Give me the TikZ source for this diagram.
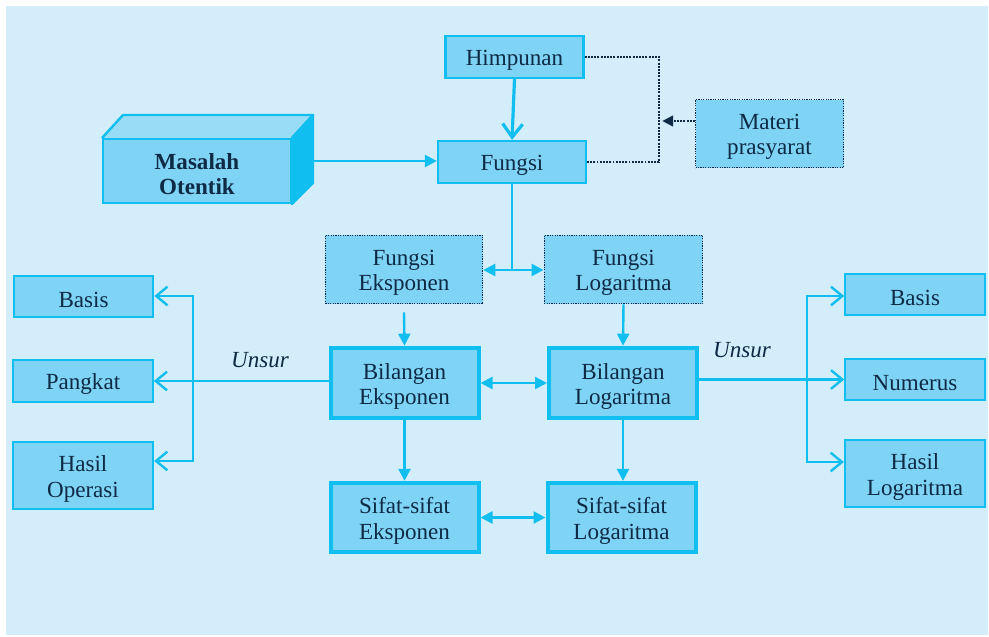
\documentclass[tikz,border=0pt]{standalone}
\usepackage{fontspec}
\setmainfont{Liberation Serif}
\usetikzlibrary{arrows.meta}
\definecolor{bgc}{RGB}{211,238,250}
\definecolor{boxc}{RGB}{127,212,246}
\definecolor{cyanc}{RGB}{16,190,240}
\definecolor{topc}{RGB}{152,220,246}
\definecolor{txtc}{RGB}{14,42,69}
\newcommand\lowr[1]{\raisebox{-2.5pt}[\height][\depth]{#1}}
\begin{document}
\begin{tikzpicture}[x=0.75pt,y=-0.75pt,
 font=\fontsize{17.3}{19}\selectfont,
 base/.style={fill=boxc, align=center, inner sep=0pt, text=txtc},
 plainbox/.style={base, draw=cyanc, line width=1.7pt},
 boldbox/.style={base, draw=cyanc, line width=3pt, minimum width=111pt, minimum height=53pt},
 dotbox/.style={base, draw=txtc, line width=0.9pt, dash pattern=on 0.9pt off 0.9pt},
 sidebox/.style={plainbox, minimum width=104.5pt, minimum height=31pt},
 sidebig/.style={plainbox, minimum width=105pt, minimum height=50.5pt},
 conn/.style={draw=cyanc, line width=1.8pt},
 tri/.style={conn, -{Triangle[length=9pt,width=9pt]}},
 dtri/.style={conn, {Triangle[length=9pt,width=9pt]}-{Triangle[length=9pt,width=9pt]}},
 barbs/.style={conn, {Straight Barb[length=8.5pt,width=14pt]}-{Straight Barb[length=8.5pt,width=14pt]}},
 barb/.style={conn, -{Straight Barb[length=8.5pt,width=14pt]}},
 dline/.style={draw=txtc, line width=1.4pt, dash pattern=on 1.4pt off 1pt},
 lbl/.style={text=txtc, font=\fontsize{17.3}{19}\selectfont\itshape}
]
\useasboundingbox (0,0) rectangle (989,636);
\fill[bgc] (6,6) rectangle (988,635);

% top
\node[plainbox, minimum width=103.5pt, minimum height=31.5pt] (him) at (514.5,57) {\lowr{Himpunan}};
\node[plainbox, minimum width=111pt, minimum height=31.5pt] (fun) at (512,162) {\lowr{Fungsi}};
\node[dotbox, minimum width=111pt, minimum height=51pt] (mat) at (769.5,133.5) {\lowr{Materi}\\\lowr{prasyarat}};

% 3D box
\fill[topc] (102,138) -- (123,115) -- (313,115) -- (292,138) -- cycle;
\draw[cyanc, line width=1.8pt, line join=round] (102,138) -- (123,115) -- (313,115) -- (292,138);
\filldraw[fill=cyanc, draw=cyanc, line width=1.8pt, line join=round] (292,138) -- (313,115) -- (313,183) -- (292,204) -- cycle;
\node[plainbox, line width=1.9pt, minimum width=141pt, minimum height=48pt, font=\fontsize{17.3}{19}\selectfont\bfseries] (mas) at (197,171) {\lowr{Masalah}\\\lowr{Otentik}};
\coordinate (masr) at (313,161);

% middle
\node[dotbox, minimum width=118pt, minimum height=51.5pt] (fe) at (404,269.5) {\lowr{Fungsi}\\\lowr{Eksponen}};
\node[dotbox, minimum width=119pt, minimum height=51.5pt] (fl) at (623.5,269.5) {\lowr{Fungsi}\\\lowr{Logaritma}};
\node[boldbox] (be) at (404.5,383) {\lowr{Bilangan}\\\lowr{Eksponen}};
\node[boldbox] (bl) at (623,383) {\lowr{Bilangan}\\\lowr{Logaritma}};
\node[boldbox, minimum height=52pt] (se) at (404.5,517.5) {\lowr{Sifat-sifat}\\\lowr{Eksponen}};
\node[boldbox, minimum height=52pt] (sl) at (621.5,517.5) {\lowr{Sifat-sifat}\\\lowr{Logaritma}};

% left
\node[sidebox] (lb) at (83.5,296.5) {\lowr{Basis}};
\node[sidebox] (lp) at (83,381) {\lowr{Pangkat}};
\node[sidebig] (lh) at (83,475.5) {\lowr{Hasil}\\\lowr{Operasi}};
% right
\node[sidebox] (rb) at (915,294.5) {\lowr{Basis}};
\node[sidebox] (rn) at (915,379.5) {\lowr{Numerus}};
\node[sidebig] (rh) at (915,473.5) {\lowr{Hasil}\\\lowr{Logaritma}};

% coordinates
\coordinate (dj) at (659,121);
\coordinate (fj) at (512,270);
\coordinate (lt) at (193,296);
\coordinate (lbm) at (193,461);
\coordinate (rt) at (807,296);
\coordinate (rbm) at (807,462);

% connectors top
\draw[conn, line width=2.4pt, -{Straight Barb[length=10pt,width=15pt]}] (him.south) -- (fun.north);
\draw[dline] (him.east) -| (dj) |- (fun.east);
\draw[dline, -{Triangle[length=8pt,width=8pt]}, shorten >=2.5pt] (mat.west |- dj) -- (dj);
\draw[tri] (masr) -- (masr -| fun.west);
\draw[conn, line width=2.2pt] (fun.south) -- (fj);
\draw[tri] (fj) -- (fj -| fe.east);
\draw[tri] (fj) -- (fj -| fl.west);
\draw[tri] ([yshift=-6pt]fe.south) -- (be.north);
\draw[tri] (fl.south) -- (bl.north);
\draw[dtri] (be.east) -- (bl.west);
\draw[tri] (be.south) -- (se.north);
\draw[tri] (bl.south) -- (bl.south |- sl.north);
\draw[dtri] (se.east) -- (sl.west);

% left branches
\draw[barb] (lp.east -| be.west) -- (lp.east);
\draw[barbs] (lb.east |- lt) -- (lt) -- (lbm) -- (lbm -| lh.east);
\node[lbl] (ul) at (260,360) {Unsur};
% right branches
\draw[barb] (rn.west -| bl.east) -- (rn.west);
\draw[barbs] (rb.west |- rt) -- (rt) -- (rbm) -- (rbm -| rh.west);
\node[lbl] (ur) at (742,350) {Unsur};
\end{tikzpicture}
\end{document}
